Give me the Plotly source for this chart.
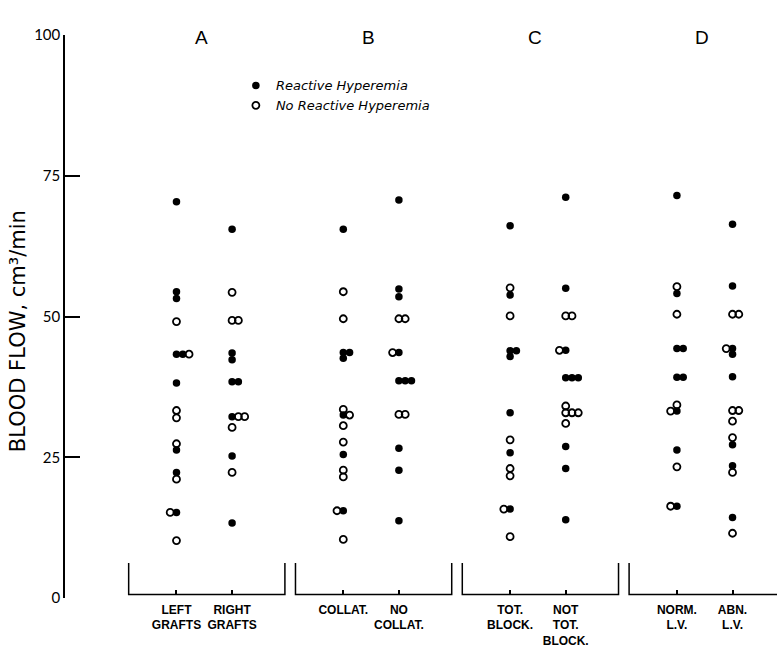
import plotly.graph_objects as go

# ---------------- data ----------------
TICK_LABELS = ["LEFT<br>GRAFTS", "RIGHT<br>GRAFTS", "COLLAT.", "NO<br>COLLAT.",
               "TOT.<br>BLOCK.", "NOT<br>TOT.<br>BLOCK.", "NORM.<br>L.V.", "ABN.<br>L.V."]
GROUP_LETTERS = ["A", "B", "C", "D"]
Y_TICKS = [0, 25, 50, 75, 100]

left_grafts_filled = [70.4, 54.4, 53.2, 43.3, 43.3, 38.2, 26.3, 22.3, 15.2]
left_grafts_open = [49.1, 43.3, 33.3, 32.0, 27.4, 21.1, 15.2, 10.2]
right_grafts_filled = [65.5, 43.5, 42.3, 38.4, 38.4, 32.2, 25.2, 13.3]
right_grafts_open = [54.3, 49.3, 49.3, 32.2, 32.2, 30.3, 22.3]
collat_filled = [65.5, 43.6, 43.6, 42.6, 32.5, 25.5, 15.5]
collat_open = [54.4, 49.6, 33.5, 32.5, 30.6, 27.7, 22.7, 21.5, 15.5, 10.4]
no_collat_filled = [70.7, 54.9, 53.5, 43.6, 38.6, 38.6, 38.6, 26.6, 22.7, 13.7]
no_collat_open = [49.6, 49.6, 43.6, 32.6, 32.6]
tot_block_filled = [66.1, 53.8, 43.9, 43.9, 42.9, 32.9, 25.8, 15.8]
tot_block_open = [55.1, 50.1, 28.1, 23.0, 21.7, 15.8, 10.9]
not_tot_block_filled = [71.2, 55.0, 44.0, 39.1, 39.1, 39.1, 26.9, 23.0, 13.9]
not_tot_block_open = [50.1, 50.1, 44.0, 34.1, 32.9, 32.9, 32.9, 31.0]
norm_lv_filled = [71.5, 54.1, 44.3, 44.3, 39.2, 39.2, 33.2, 26.3, 16.3]
norm_lv_open = [55.3, 50.4, 34.3, 33.2, 23.3, 16.3]
abn_lv_filled = [66.4, 55.4, 44.3, 43.3, 39.3, 27.2, 23.5, 14.3]
abn_lv_open = [50.4, 50.4, 44.3, 33.3, 33.3, 31.4, 28.5, 22.3, 11.5]

FILLED = [left_grafts_filled, right_grafts_filled, collat_filled, no_collat_filled,
          tot_block_filled, not_tot_block_filled, norm_lv_filled, abn_lv_filled]
OPEN = [left_grafts_open, right_grafts_open, collat_open, no_collat_open,
        tot_block_open, not_tot_block_open, norm_lv_open, abn_lv_open]

# clusters (column index, value) where the open circle sits left of the filled one
OPEN_FIRST = {(0, 15.2), (2, 15.5), (3, 43.6), (4, 15.8), (5, 44.0),
              (6, 33.2), (6, 16.3), (7, 44.3)}

# ---------------- layout helpers ----------------
def col_pos(i):
    g, s = divmod(i, 2)
    return 3 * g + s

SLOT = 0.113  # horizontal dodge for coincident values (x units)

fx, fy, ox, oy = [], [], [], []
for i in range(len(TICK_LABELS)):
    base = col_pos(i)
    values = sorted(set(FILLED[i]) | set(OPEN[i]))
    for v in values:
        nf = FILLED[i].count(v)
        no = OPEN[i].count(v)
        if (i, v) in OPEN_FIRST:
            members = ["o"] * no + ["f"] * nf
            start = -no
        else:
            members = ["f"] * nf + ["o"] * no
            start = 0
        for k, m in enumerate(members):
            x = base + (start + k) * SLOT
            if m == "f":
                fx.append(x); fy.append(v)
            else:
                ox.append(x); oy.append(v)

fig = go.Figure()
fig.add_trace(go.Scatter(
    x=fx, y=fy, mode="markers", name="Reactive Hyperemia",
    marker=dict(symbol="circle", size=7.5, color="black", line=dict(width=0))))
fig.add_trace(go.Scatter(
    x=ox, y=oy, mode="markers", name="No Reactive Hyperemia",
    marker=dict(symbol="circle-open", size=7, color="black", line=dict(width=1.8, color="black"))))

BR_BOTTOM = 0.6
BR_TOP = 6.2
for g in range(4):
    c = 3 * g + 0.5
    l, r = c - 1.36, c + 1.45
    fig.add_shape(type="path", xref="x", yref="y",
                  path=f"M {l},{BR_TOP} L {l},{BR_BOTTOM} L {r},{BR_BOTTOM} L {r},{BR_TOP}",
                  line=dict(color="black", width=1.5))
    fig.add_annotation(x=c - 0.05, xref="x", y=1.018, yref="paper", text=GROUP_LETTERS[g],
                       showarrow=False, font=dict(family="Liberation Sans", size=19, color="black"))

fig.add_annotation(x=-0.066, xref="paper", y=0.474, yref="paper", text="BLOOD FLOW, cm³/min",
                   textangle=-90, showarrow=False, xanchor="center", yanchor="middle",
                   font=dict(family="DejaVu Sans", size=21, color="black"))

fig.update_xaxes(range=[-2.005, 10.8], tickmode="array",
                 tickvals=[col_pos(i) for i in range(len(TICK_LABELS))], ticktext=TICK_LABELS,
                 tickangle=0, ticklabelstandoff=6,
                 ticks="inside", ticklen=5, tickwidth=1.5, tickcolor="black",
                 showgrid=False, zeroline=False, showline=False,
                 anchor="free", position=BR_BOTTOM / 100,
                 tickfont=dict(family="Liberation Sans", size=12, color="black", weight="bold"))
fig.update_yaxes(range=[0, 100], tickmode="array", tickvals=Y_TICKS,
                 ticks="inside", ticklen=15, tickwidth=1.5, tickcolor="black",
                 showline=True, linewidth=1.5, linecolor="black",
                 showgrid=False, zeroline=False,
                 tickfont=dict(family="Lato, DejaVu Sans", size=15, color="black"))

fig.update_layout(
    width=777, height=648,
    margin=dict(l=65, r=0, t=35, b=50, autoexpand=False),
    plot_bgcolor="white", paper_bgcolor="white",
    showlegend=True,
    legend=dict(x=0.24, y=0.937, xanchor="left", yanchor="top",
                bgcolor="rgba(0,0,0,0)", borderwidth=0,
                font=dict(family="DejaVu Sans", size=13, color="black", style="italic")),
)

fig.write_html("out.html")
